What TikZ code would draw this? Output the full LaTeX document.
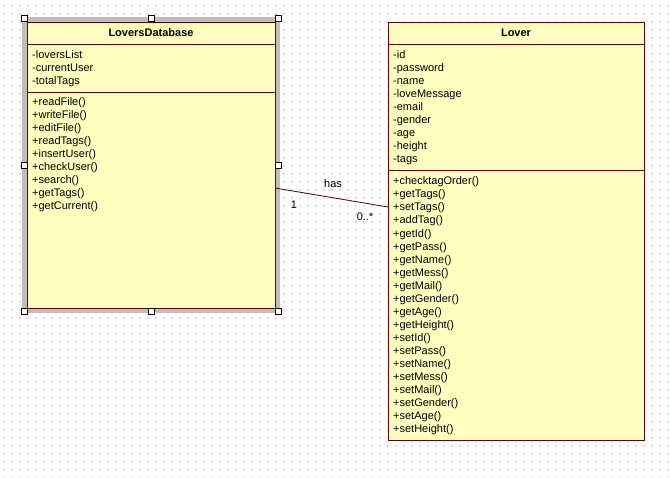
\documentclass[tikz,border=0pt]{standalone}
\usepackage{fontspec}
\setmainfont{Liberation Sans}
\usetikzlibrary{calc}
\definecolor{classfill}{RGB}{255,255,192}
\definecolor{classline}{RGB}{112,0,0}
\definecolor{griddot}{RGB}{220,220,220}
\begin{document}
\begin{tikzpicture}[x=1pt,y=-1pt,
  classbox/.style={draw=classline, fill=classfill, line width=0.85pt, rectangle, inner sep=0pt, outer sep=0pt, anchor=north west},
  sepline/.style={draw=classline, line width=0.85pt},
  member/.style={anchor=base west, inner sep=0pt, font=\fontsize{11}{13}\selectfont},
  title/.style={anchor=base, inner sep=0pt, font=\fontsize{11}{13}\selectfont\bfseries},
  assoc/.style={draw=classline, line width=0.85pt},
  assoclabel/.style={anchor=base, inner sep=0pt, font=\fontsize{11}{13}\selectfont},
  handle/.style={draw=black, fill=white, line width=0.8pt, minimum size=6pt, inner sep=0pt, rectangle},
  selband/.style={fill=black!26, draw=none}
]
\useasboundingbox (0,0) rectangle (671,478);
\fill[white] (0,0) rectangle (671,478);

% dotted drawing grid
\foreach \k in {0,...,59}
  \draw[griddot, line width=1.1pt, dash pattern=on 1.1pt off 6.9pt] (3.45,6+8*\k) -- (671,6+8*\k);

% selection band around LoversDatabase
\fill[selband] (22,17) rectangle (280,313);

% LoversDatabase class
\node[classbox, minimum width=248pt, minimum height=286pt] (ld) at (27,22) {};
\draw[sepline] ([yshift=-22pt]ld.north west) -- ([yshift=-22pt]ld.north east);
\draw[sepline] ([yshift=-70pt]ld.north west) -- ([yshift=-70pt]ld.north east);
\node[title] (ldname) at (151,37) {LoversDatabase};
\foreach \t [count=\i from 0] in {-loversList,-currentUser,-totalTags}
  \node[member] (lda\i) at (32,59+13*\i) {\t};
\foreach \t [count=\i from 0] in {+readFile(),+writeFile(),+editFile(),+readTags(),+insertUser(),+checkUser(),+search(),+getTags(),+getCurrent()}
  \node[member] (ldm\i) at (32,106+13*\i) {\t};

% selection handles
\foreach \hx/\hy [count=\j] in {24/18,151/18,278/18,24/165,278/165,24/311,151/311,278/311}
  \node[handle] (h\j) at (\hx,\hy) {};

% Lover class
\node[classbox, minimum width=256pt, minimum height=418pt] (lover) at (388,22) {};
\draw[sepline] ([yshift=-22pt]lover.north west) -- ([yshift=-22pt]lover.north east);
\draw[sepline] ([yshift=-148pt]lover.north west) -- ([yshift=-148pt]lover.north east);
\node[title] (lovername) at (516,37) {Lover};
\foreach \t [count=\i from 0] in {-id,-password,-name,-loveMessage,-email,-gender,-age,-height,-tags}
  \node[member] (la\i) at (393,59+13*\i) {\t};
\foreach \t [count=\i from 0] in {+checktagOrder(),+getTags(),+setTags(),+addTag(),+getId(),+getPass(),+getName(),+getMess(),+getMail(),+getGender(),+getAge(),+getHeight(),+setId(),+setPass(),+setName(),+setMess(),+setMail(),+setGender(),+setAge(),+setHeight()}
  \node[member] (lm\i) at (393,185+13*\i) {\t};

% association
\draw[assoc] ([yshift=-23pt]ld.east) -- ([yshift=24pt]lover.west);
\node[assoclabel] (has) at (333,188) {has};
\node[assoclabel] (mult1) at (294,208) {1};
\node[assoclabel] (multn) at (365,221) {0..*};
\end{tikzpicture}
\end{document}
